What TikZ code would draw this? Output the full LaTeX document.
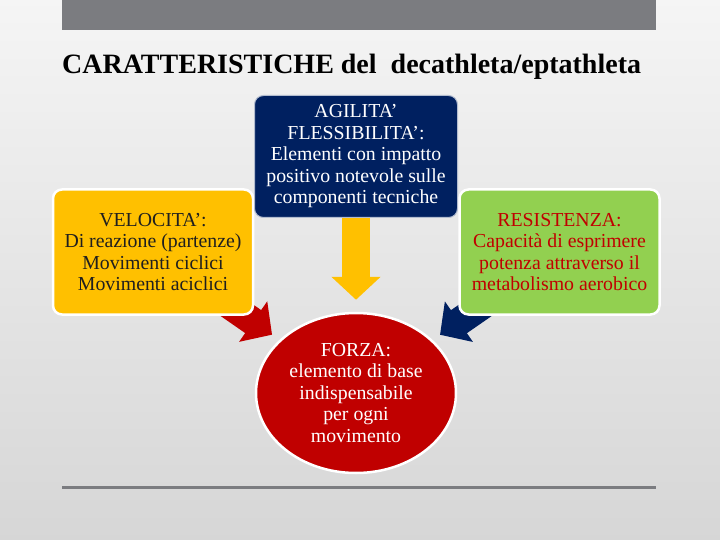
\documentclass[tikz,border=0pt]{standalone}
\usepackage{fontspec}
\setmainfont{Liberation Serif}
\usepackage{tikz}
\usetikzlibrary{arrows.meta,shapes.geometric,backgrounds}
\pgfdeclarelayer{fond}
\pgfsetlayers{fond,background,main}
\definecolor{giallo}{RGB}{255,192,0}
\definecolor{blu}{RGB}{0,32,96}
\definecolor{verde}{RGB}{146,208,80}
\definecolor{rosso}{RGB}{192,0,0}
\definecolor{grigio}{RGB}{123,124,128}
\tikzset{
  boite/.style = {rectangle, rounded corners=9pt, draw=white, line width=2.5pt,
    align=center, inner sep=0pt, text centered,
    font=\fontsize{19.8}{21.5}\selectfont,
    minimum width=200pt, minimum height=125pt},
  boite_v/.style = {boite, fill=giallo, text=black!88},% velocita, giallo
  boite_a/.style = {boite, fill=blu, text=white, draw=white!70!blu,
    line width=1pt, minimum width=203pt, minimum height=122pt},% agilita, blu
  boite_r/.style = {boite, fill=verde, text=rosso},% resistenza, verde
  ovale_f/.style = {ellipse, fill=rosso, draw=white, line width=2.5pt,
    text=white, align=center, inner sep=0pt,
    font=\fontsize{19.8}{21.5}\selectfont,
    minimum width=200pt, minimum height=160pt},% forza, rosso
  fleche/.style = {line width=28pt, -{Triangle[width=48pt,length=23pt]}}
}

\begin{document}
\begin{tikzpicture}[x=1pt,y=-1pt]
    \useasboundingbox (0,0) rectangle (720,540);
    \begin{pgfonlayer}{fond}
      \shade[top color=white!96!black, bottom color=white!84!black]
        (0,0) rectangle (720,540);
    \end{pgfonlayer}
    \fill[grigio] (62,0) rectangle (656,30);
    \draw[grigio, line width=3pt] (62,487) -- (656,487);
    \node[anchor=base west, inner sep=0pt, font=\fontsize{28}{32}\selectfont\bfseries]
      (titre) at (62,74) {CARATTERISTICHE del~ decathleta/eptathleta};
    \node[boite_v] (vel) at (153,252)
      {VELOCITA':\\Di reazione (partenze)\\Movimenti ciclici\\Movimenti aciclici};
    \node[boite_a] (agi) at (356,156.5)
      {AGILITA'\\FLESSIBILITA':\\Elementi con impatto\\positivo notevole sulle\\componenti tecniche};
    \node[boite_r] (res) at (559.5,252)
      {RESISTENZA:\\Capacità di esprimere\\potenza attraverso il\\metabolismo aerobico};
    \node[ovale_f] (forza) at (356,393)
      {FORZA:\\elemento di base\\indispensabile\\per ogni\\movimento};
    \begin{pgfonlayer}{background}
      \draw[fleche, rosso, shorten >=9pt] (vel.center) -- (forza);
      \draw[fleche, blu, shorten >=9pt] (res.center) -- (forza);
      \draw[fleche, giallo, shorten >=12pt] (agi.center) -- (forza);
    \end{pgfonlayer}
\end{tikzpicture}
\end{document}
